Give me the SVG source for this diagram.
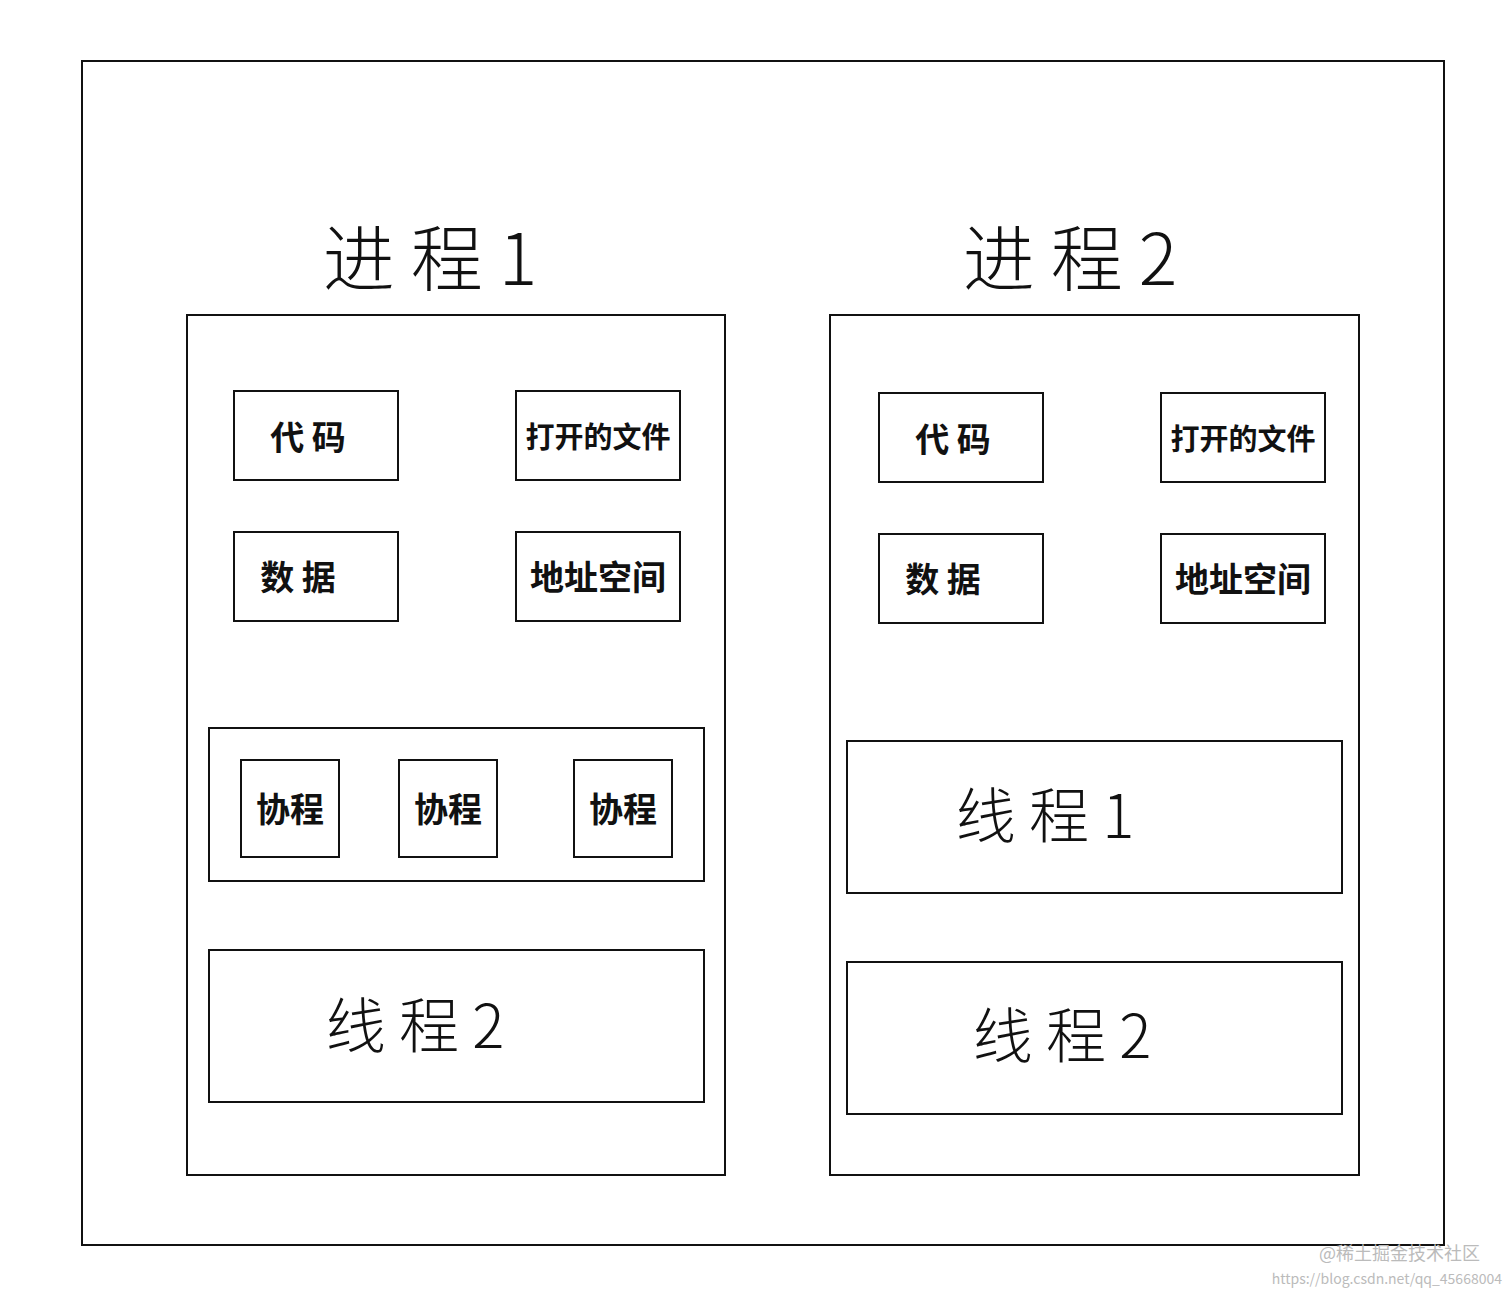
<svg xmlns="http://www.w3.org/2000/svg" width="1512" height="1296" viewBox="0 0 1512 1296">
<style>
rect{fill:none;stroke:#111;stroke-width:2}
text{font-family:"Noto Sans CJK SC",sans-serif;fill:#111;text-anchor:middle}
.t{font-size:72px;font-weight:300}
.s{font-size:34px;font-weight:700}
.f{font-size:29px;font-weight:700}
.m{font-size:60px;font-weight:300}
.w{font-size:18px;fill:#bbb;text-anchor:end}
</style>
<rect width="1512" height="1296" style="fill:#fff;stroke:none"/>
<g id="outer"><rect x="82" y="61" width="1362" height="1184"/></g>
<g id="p1"><rect x="187" y="315" width="538" height="860"/><text class="t" x="430" y="285">进 程 1</text></g>
<g id="p2"><rect x="830" y="315" width="529" height="860"/><text class="t" x="1070" y="285">进 程 2</text></g>
<g id="p1code"><rect x="234" y="391" width="164" height="89"/><text class="s" x="308" y="450">代 码</text></g>
<g id="p1file"><rect x="516" y="391" width="164" height="89"/><text class="f" x="598" y="448">打开的文件</text></g>
<g id="p1data"><rect x="234" y="532" width="164" height="89"/><text class="s" x="298" y="590">数 据</text></g>
<g id="p1addr"><rect x="516" y="532" width="164" height="89"/><text class="s" x="598" y="590">地址空间</text></g>
<g id="p1co"><rect x="209" y="728" width="495" height="153"/></g>
<g id="co1"><rect x="241" y="760" width="98" height="97"/><text class="s" x="290" y="822">协程</text></g>
<g id="co2"><rect x="399" y="760" width="98" height="97"/><text class="s" x="448" y="822">协程</text></g>
<g id="co3"><rect x="574" y="760" width="98" height="97"/><text class="s" x="623" y="822">协程</text></g>
<g id="p1t2"><rect x="209" y="950" width="495" height="152"/><text class="m" x="415" y="1048">线 程 2</text></g>
<g id="p2code"><rect x="879" y="393" width="164" height="89"/><text class="s" x="953" y="452">代 码</text></g>
<g id="p2file"><rect x="1161" y="393" width="164" height="89"/><text class="f" x="1243" y="450">打开的文件</text></g>
<g id="p2data"><rect x="879" y="534" width="164" height="89"/><text class="s" x="943" y="592">数 据</text></g>
<g id="p2addr"><rect x="1161" y="534" width="164" height="89"/><text class="s" x="1243" y="592">地址空间</text></g>
<g id="p2t1"><rect x="847" y="741" width="495" height="152"/><text class="m" x="1045" y="838">线 程 1</text></g>
<g id="p2t2"><rect x="847" y="962" width="495" height="152"/><text class="m" x="1062" y="1058">线 程 2</text></g>
<g id="connectors"></g>
<text class="w" x="1480" y="1260">@稀土掘金技术社区</text>
<text class="w" x="1502" y="1284" style="font-size:14px">https://blog.csdn.net/qq_45668004</text>
</svg>
